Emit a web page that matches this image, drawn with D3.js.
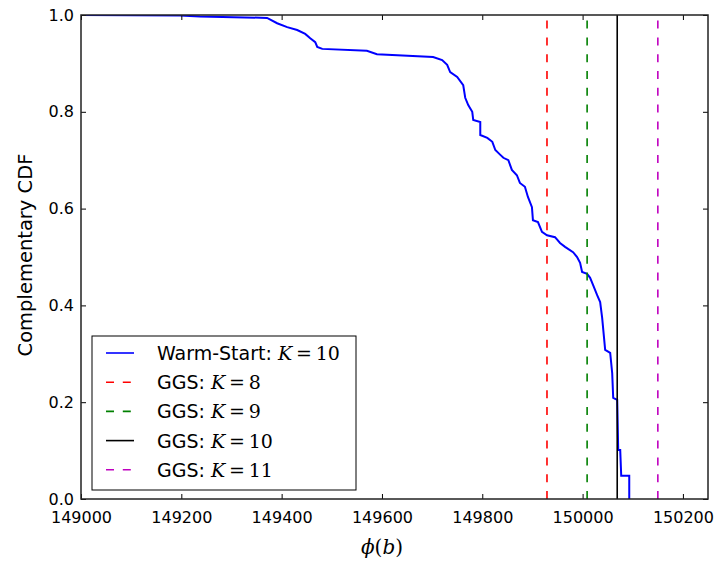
<!DOCTYPE html>
<html><head><meta charset="utf-8">
<script src="https://cdn.jsdelivr.net/npm/d3@7"></script>
<style>body{margin:0;background:#fff}svg{display:block}</style>
</head><body>
<svg id="c" width="714" height="561"></svg>
<script>
// Warm-Start K=10 complementary CDF (x = phi(b), y = CCDF)
const warmX = [149000,149197,149237,149371,149391,149411,149431,149447,149457,149467,149471,149481,149570,149590,149702,149720,149730,149736,149750,149762,149766,149772,149780,149782,149796,149796,149810,149820,149826,149836,149842,149852,149859,149869,149875,149885,149891,149899,149901,149911,149919,149929,149945,149955,149965,149981,149989,149995,149999,150009,150015,150021,150029,150035,150039,150045,150055,150059,150061,150069,150071,150075,150077,150093,150093];
const warmY = [1.0,0.999,0.997,0.994,0.983,0.975,0.969,0.961,0.952,0.944,0.934,0.930,0.926,0.919,0.913,0.907,0.897,0.882,0.872,0.855,0.829,0.814,0.800,0.783,0.779,0.752,0.746,0.738,0.721,0.711,0.705,0.700,0.680,0.669,0.653,0.645,0.624,0.603,0.576,0.572,0.552,0.545,0.541,0.529,0.521,0.510,0.500,0.488,0.469,0.465,0.457,0.442,0.421,0.407,0.374,0.308,0.302,0.260,0.209,0.205,0.101,0.101,0.048,0.048,0.0];
// GGS vertical reference lines
const ggsK = ["8","9","10","11"];
const ggsX = [149929,150009,150069,150150];
const ggsColor = ["#ff0000","#008000","#000000","#bf00bf"];
const ggsDash = ["8,8.8","8,8.8",null,"8,8.8"];
const xTicks = [149000,149200,149400,149600,149800,150000,150200];
const yTicks = [0.0,0.2,0.4,0.6,0.8,1.0];

const svg = d3.select("#c");
const L=81,R=708,T=15,B=499;
const x = d3.scaleLinear().domain([149000,150250]).range([L,R]);
const y = d3.scaleLinear().domain([0,1]).range([B,T]);
const font = "DejaVu Sans, sans-serif";

svg.append("defs").append("clipPath").attr("id","clip")
  .append("rect").attr("x",L).attr("y",T).attr("width",R-L).attr("height",B-T);

const g = svg.append("g").attr("clip-path","url(#clip)");
const pts = warmX.map((v,i)=>[v,warmY[i]]);
g.append("path").datum(pts)
  .attr("d", d3.line().x(d=>x(d[0])).y(d=>y(d[1])))
  .attr("fill","none").attr("stroke","#0000ff").attr("stroke-width",2)
  .attr("stroke-linejoin","miter");
ggsX.forEach((v,i)=>{
  g.append("line").attr("x1",x(v)).attr("x2",x(v)).attr("y1",y(0)).attr("y2",y(1))
   .attr("stroke",ggsColor[i]).attr("stroke-width",1.6)
   .attr("stroke-dasharray",ggsDash[i]);
});

// axes with inward ticks on all sides
const tickFmt = d3.format(".1f");
const ax = [
  svg.append("g").attr("class","xb").attr("transform",`translate(0,${B})`).call(d3.axisBottom(x).tickValues(xTicks).tickSizeInner(-5).tickSizeOuter(0).tickPadding(9).tickFormat(d3.format("d"))),
  svg.append("g").attr("transform",`translate(0,${T})`).call(d3.axisTop(x).tickValues(xTicks).tickSizeInner(-5).tickSizeOuter(0).tickFormat("")),
  svg.append("g").attr("class","yl").attr("transform",`translate(${L},0)`).call(d3.axisLeft(y).tickValues(yTicks).tickSizeInner(-5).tickSizeOuter(0).tickPadding(7).tickFormat(tickFmt)),
  svg.append("g").attr("transform",`translate(${R},0)`).call(d3.axisRight(y).tickValues(yTicks).tickSizeInner(-5).tickSizeOuter(0).tickFormat(""))
];
ax.forEach(a=>{
  a.select(".domain").remove();
  a.selectAll(".tick line").attr("stroke","#000").attr("stroke-width",1);
  a.selectAll("text").attr("font-family",font).attr("font-size",16).attr("fill","#000");
});
svg.select(".xb").selectAll("text").attr("dy",null).attr("y",23.5);
svg.select(".yl").selectAll("text").attr("dy","0.32em");
svg.append("rect").attr("x",L).attr("y",T).attr("width",R-L).attr("height",B-T)
  .attr("fill","none").attr("stroke","#222").attr("stroke-width",1.5);

// axis labels
svg.append("text").attr("x",382).attr("y",554).attr("text-anchor","middle")
  .attr("font-family","DejaVu Serif, serif").attr("font-size",20)
  .html('<tspan font-style="italic">ϕ</tspan>(<tspan font-style="italic">b</tspan>)');
svg.append("text").attr("transform",`translate(32,255) rotate(-90)`)
  .attr("text-anchor","middle").attr("font-family",font).attr("font-size",19.5)
  .text("Complementary CDF");

// legend
const lg = svg.append("g");
lg.append("rect").attr("x",92).attr("y",336).attr("width",264).attr("height",154)
  .attr("fill","#fff").attr("stroke","#000").attr("stroke-width",1);
const legLabels = ["Warm-Start: ","GGS: ","GGS: ","GGS: ","GGS: "];
const legK = ["10"].concat(ggsK);
const legColor = ["#0000ff"].concat(ggsColor);
const legDash = [null].concat(ggsDash);
legLabels.forEach((lab,i)=>{
  const yy = 353 + i*29.2;
  lg.append("line").attr("x1",106).attr("x2",134).attr("y1",yy).attr("y2",yy)
    .attr("stroke",legColor[i]).attr("stroke-width",1.6).attr("stroke-dasharray",legDash[i]);
  const t = lg.append("text").attr("x",157).attr("y",yy+7).attr("font-size",19).attr("fill","#000");
  t.append("tspan").attr("font-family",font).text(lab);
  t.append("tspan").attr("font-family","DejaVu Serif, serif").attr("font-style","italic").text("K");
  t.append("tspan").attr("font-family","DejaVu Serif, serif").text("\u2009=\u2009"+legK[i]);
});
</script>
</body></html>
